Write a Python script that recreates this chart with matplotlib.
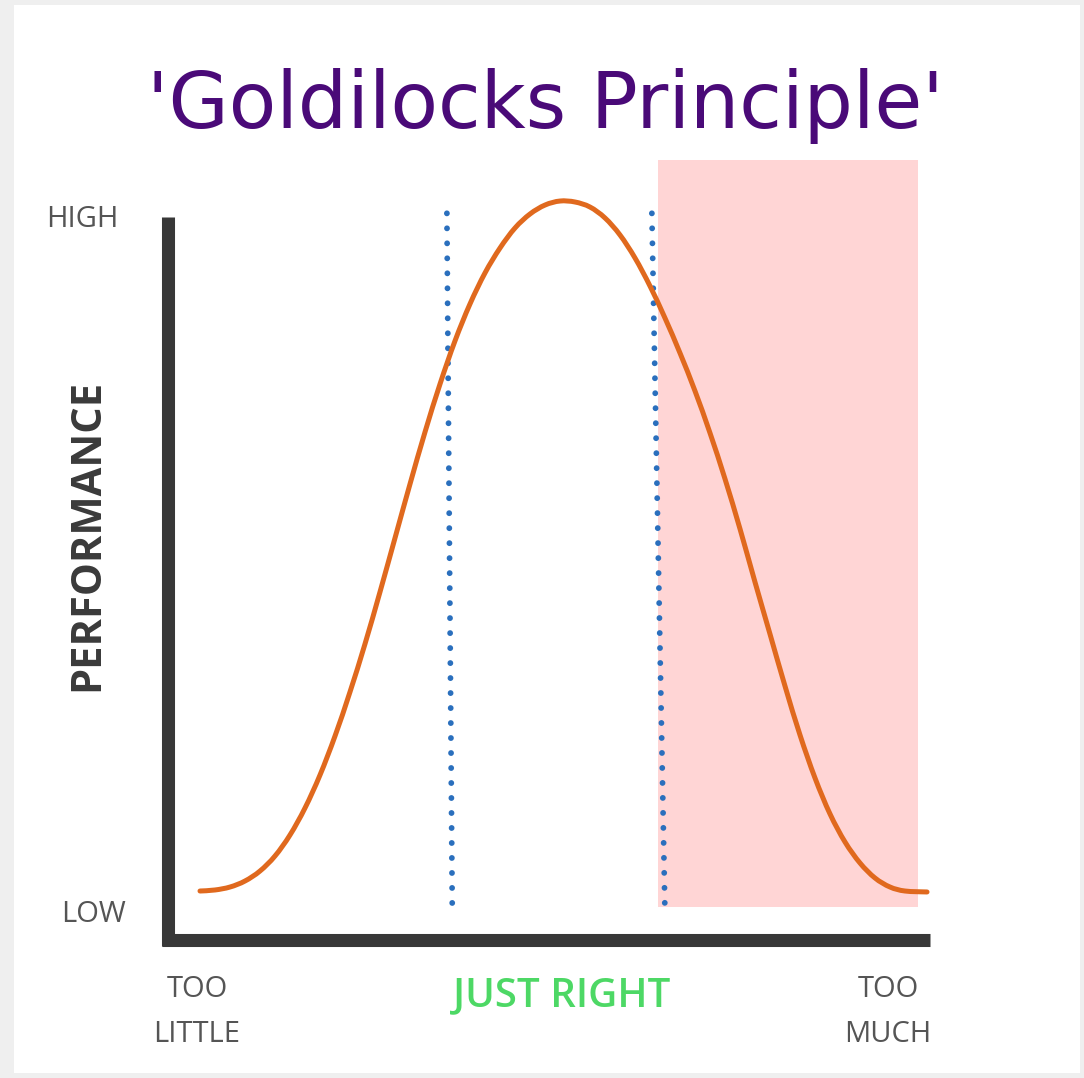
import matplotlib
matplotlib.use("Agg")
import matplotlib.pyplot as plt
from matplotlib.patches import Rectangle, PathPatch
from matplotlib.path import Path

# ---- data (quantity 0..100 on x, performance 0..100 on y) ----
curve_x = [4.20, 6.17, 8.14, 10.10, 12.07, 14.04, 16.01, 17.98, 19.95, 21.92, 23.88,
           25.85, 27.82, 29.79, 31.76, 33.73, 35.70, 37.66, 39.63, 41.60, 43.57, 45.54,
           47.51, 49.48, 51.44, 53.41, 55.38, 57.35, 59.32, 61.29, 63.25, 65.22, 67.19,
           69.16, 71.13, 73.10, 75.07, 77.03, 79.00, 80.97, 82.94, 84.91, 86.88, 88.85,
           90.81, 92.78, 94.75, 96.72, 99.61]
curve_y = [6.62, 6.76, 7.16, 7.97, 9.32, 11.35, 14.19, 17.84, 22.30, 27.57, 33.51,
           40.00, 47.03, 54.32, 61.62, 68.65, 75.14, 80.95, 85.95, 90.14, 93.51, 96.22,
           98.11, 99.32, 99.86, 99.73, 99.05, 97.57, 95.27, 92.16, 88.38, 84.05, 79.32,
           74.19, 68.51, 62.30, 55.54, 48.38, 41.35, 34.32, 27.70, 21.89, 17.03, 13.24,
           10.41, 8.38, 7.16, 6.62, 6.49]

zone_top_x = [36.6, 63.5]      # dotted "just right" boundaries at the top
zone_bottom_x = [37.3, 65.2]   # and at the bottom
zone_y = [98.2, 4.7]

too_much_x = [64.3, 98.4]
too_much_y = [4.5, 105.4]

title = "'Goldilocks Principle'"
y_labels = ["HIGH", "LOW"]
x_labels = ["TOO\nLITTLE", "JUST RIGHT", "TOO\nMUCH"]
y_title = "PERFORMANCE"

# ---- figure ----
W, H = 1084, 1078
fig = plt.figure(figsize=(W / 100, H / 100), dpi=100, facecolor="#efefef")
fig.patches.append(Rectangle((14 / W, 5 / H), 1066 / W, 1068 / H,
                             transform=fig.transFigure, facecolor="white",
                             edgecolor="none", zorder=-5))

ax = fig.add_axes([168 / W, (H - 940) / H, 762 / W, 740 / H])
ax.set_zorder(2)
ax.set_facecolor("none")
ax.set_xlim(0, 100)
ax.set_ylim(0, 100)
ax.set_xticks([])
ax.set_yticks([])
for s in ["top", "right"]:
    ax.spines[s].set_visible(False)
for s in ["left", "bottom"]:
    ax.spines[s].set_linewidth(9.4)
    ax.spines[s].set_color("#383838")
    ax.spines[s].set_capstyle("butt")
ax.spines["left"].set_bounds(-0.85, 97.7)
ax.spines["bottom"].set_bounds(-0.85, 100)

# pink "too much" region
ax.add_patch(Rectangle((too_much_x[0], too_much_y[0]),
                       too_much_x[1] - too_much_x[0], too_much_y[1] - too_much_y[0],
                       facecolor="#ffd5d5", edgecolor="none", clip_on=False, zorder=1))

# dotted boundaries
for xt, xb in zip(zone_top_x, zone_bottom_x):
    ax.plot([xt, xb], zone_y, color="#2a6fbd", linewidth=4.2,
            linestyle=(0, (0.01, 2.56)), dash_capstyle="round",
            clip_on=False, zorder=3)

# curve: smooth Bezier path through the read points
pts = list(zip(curve_x, curve_y))
verts = [pts[0]]
codes = [Path.MOVETO]
n = len(pts)
for i in range(n - 1):
    p0 = pts[i - 1] if i > 0 else pts[i]
    p1 = pts[i]
    p2 = pts[i + 1]
    p3 = pts[i + 2] if i + 2 < n else pts[i + 1]
    c1 = (p1[0] + (p2[0] - p0[0]) / 6, p1[1] + (p2[1] - p0[1]) / 6)
    c2 = (p2[0] - (p3[0] - p1[0]) / 6, p2[1] - (p3[1] - p1[1]) / 6)
    verts += [c1, c2, p2]
    codes += [Path.CURVE4] * 3
ax.add_patch(PathPatch(Path(verts, codes), facecolor="none", edgecolor="#e0691e",
                       linewidth=3.6, capstyle="round", joinstyle="round",
                       clip_on=False, zorder=4))

# labels
lab = dict(family="Open Sans", color="#555555", fontsize=21, clip_on=False)
ax.text(-11.3, 97.3, y_labels[0], ha="center", va="center", **lab)
ax.text(-9.8, 3.4, y_labels[1], ha="center", va="center", **lab)
ax.text(3.8, -9.7, x_labels[0], ha="center", va="center", linespacing=1.75, **lab)
ax.text(94.5, -9.7, x_labels[2], ha="center", va="center", linespacing=1.75, **lab)
ax.text(51.7, -7.6, x_labels[1], ha="center", va="center", family="Open Sans",
        fontweight="semibold", color="#4dd865", fontsize=29, clip_on=False)
ax.text(-10.5, 54.8, y_title, ha="center", va="center", rotation=90,
        family="Open Sans", fontweight="bold", color="#3a3a3a", fontsize=30,
        clip_on=False)

fig.text(545 / W, 1 - 128 / H, title, ha="center", va="baseline",
         family="DejaVu Sans", color="#4a0a78", fontsize=56)

fig.savefig("out.png", dpi=100, facecolor=fig.get_facecolor())
